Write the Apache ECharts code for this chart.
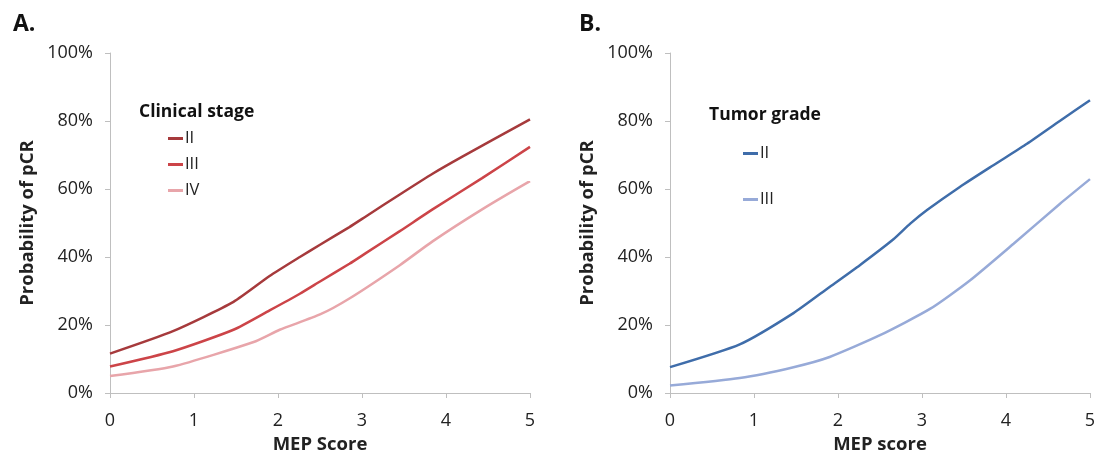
<!DOCTYPE html>
<html><head><meta charset="utf-8">
<script src="https://cdn.jsdelivr.net/npm/echarts@6/dist/echarts.min.js"></script>
<style>html,body{margin:0;padding:0;background:#fff}#c{width:1097px;height:452px}</style>
</head><body><div id="c"></div>
<script>
// Panel A: Clinical stage
const stageII_x  = [0, 0.75, 1.47, 1.9, 2.26, 2.5, 2.85, 3.05, 3.45, 3.84, 4.2, 5];
const stageII_y  = [11.6, 18.2, 26.8, 34.4, 40, 43.6, 48.8, 52.0, 58.4, 64.5, 69.6, 80.5];
const stageIII_x = [0, 0.75, 1.47, 1.9, 2.26, 2.5, 2.85, 3.05, 3.45, 3.84, 4.43, 5];
const stageIII_y = [7.8, 12.3, 18.6, 24.3, 29.2, 32.8, 38.0, 41.2, 47.6, 54.0, 63.2, 72.4];
const stageIV_x  = [0, 0.75, 1.71, 2.02, 2.5, 2.85, 3.45, 3.84, 4.43, 5];
const stageIV_y  = [5.0, 7.8, 15.0, 18.6, 23.1, 27.8, 37.6, 44.6, 54.0, 62.3];
// Panel B: Tumor grade
const gradeII_x  = [0, 0.83, 1.47, 1.9, 2.26, 2.66, 2.86, 3.06, 3.45, 3.85, 4.25, 4.64, 5];
const gradeII_y  = [7.6, 14.3, 23.5, 31.2, 37.6, 45.2, 49.8, 53.8, 60.6, 67.0, 73.3, 80.0, 86.1];
const gradeIII_x = [0, 0.83, 1.47, 1.9, 2.5, 3.1, 3.57, 4.09, 4.64, 5];
const gradeIII_y = [2.2, 4.4, 7.6, 10.6, 17.0, 24.8, 33.1, 43.9, 55.6, 62.9];

const xTicks = [0, 1, 2, 3, 4, 5];
const yTicks = [0, 20, 40, 60, 80, 100];
const stageNames = ['II', 'III', 'IV'];
const gradeNames = ['II', 'III'];

const pair = (xs, ys) => xs.map((x, i) => [x, ys[i]]);
const FONT = '"Open Sans", "Liberation Sans", sans-serif';
const axisCol = '#BFBFBF';
const txt = '#222';

function xAxis(gi, name) {
  return {
    gridIndex: gi, type: 'value', min: xTicks[0], max: xTicks[xTicks.length - 1], interval: 1,
    axisLine: { lineStyle: { color: axisCol, width: 1 } },
    axisTick: { show: true, length: 5, lineStyle: { color: axisCol } },
    splitLine: { show: false },
    axisLabel: { color: txt, fontSize: 18, fontFamily: FONT, margin: 19 },
    name: name, nameLocation: 'middle', nameGap: 41,
    nameTextStyle: { color: txt, fontSize: 18.5, fontWeight: 'bold', fontFamily: FONT }
  };
}
function yAxis(gi) {
  return {
    gridIndex: gi, type: 'value', min: yTicks[0], max: yTicks[yTicks.length - 1], interval: 20,
    axisLine: { show: true, lineStyle: { color: axisCol, width: 1 } },
    axisTick: { show: true, length: 5, lineStyle: { color: axisCol } },
    splitLine: { show: false },
    axisLabel: { color: txt, fontSize: 18, fontFamily: FONT, margin: 17, formatter: '{value}%' },
    name: 'Probability of pCR', nameLocation: 'middle', nameGap: 73,
    nameTextStyle: { color: txt, fontSize: 18.5, fontWeight: 'bold', fontFamily: FONT }
  };
}
function line(name, gi, data, color) {
  return {
    name: name, type: 'line', xAxisIndex: gi, yAxisIndex: gi, data: data,
    showSymbol: false, smooth: 0.2, lineStyle: { width: 2.5, color: color }, itemStyle: { color: color },
    animation: false
  };
}
const colA = ['#A63A3C', '#CC4448', '#E8A5AA'];
const colB = ['#3F6DAA', '#97AAD8'];

const chart = echarts.init(document.getElementById('c'), null, { renderer: 'canvas' });
chart.setOption({
  animation: false,
  textStyle: { fontFamily: FONT },
  title: [
    { text: 'A.', left: 8, top: 8, textStyle: { fontSize: 23, fontWeight: 'bold', color: '#111', fontFamily: FONT } },
    { text: 'B.', left: 574, top: 8, textStyle: { fontSize: 23, fontWeight: 'bold', color: '#111', fontFamily: FONT } },
    { text: 'Clinical stage', left: 134, top: 98, textStyle: { fontSize: 17.5, fontWeight: 'bold', color: '#111', fontFamily: FONT } },
    { text: 'Tumor grade', left: 704, top: 101, textStyle: { fontSize: 17.5, fontWeight: 'bold', color: '#111', fontFamily: FONT } }
  ],
  grid: [
    { left: 110, top: 53, width: 420, height: 340, outerBoundsMode: 'none', containLabel: false },
    { left: 670, top: 53, width: 420, height: 340, outerBoundsMode: 'none', containLabel: false }
  ],
  xAxis: [xAxis(0, 'MEP Score'), xAxis(1, 'MEP score')],
  yAxis: [yAxis(0), yAxis(1)],
  legend: [
    { data: stageNames.map(n => 'A|' + n), orient: 'vertical', left: 168, top: 130, padding: 0,
      icon: 'rect', itemWidth: 15, itemHeight: 3, itemGap: 9,
      formatter: n => n.split('|')[1],
      textStyle: { fontSize: 16.5, color: txt, fontFamily: FONT, padding: [0, 0, 0, -3] } },
    { data: gradeNames.map(n => 'B|' + n), orient: 'vertical', left: 743, top: 145, padding: 0, itemGap: 29,
      icon: 'rect', itemWidth: 15, itemHeight: 3,
      formatter: n => n.split('|')[1],
      textStyle: { fontSize: 16.5, color: txt, fontFamily: FONT, padding: [0, 0, 0, -3] } }
  ],
  series: [
    line('A|II', 0, pair(stageII_x, stageII_y), colA[0]),
    line('A|III', 0, pair(stageIII_x, stageIII_y), colA[1]),
    line('A|IV', 0, pair(stageIV_x, stageIV_y), colA[2]),
    line('B|II', 1, pair(gradeII_x, gradeII_y), colB[0]),
    line('B|III', 1, pair(gradeIII_x, gradeIII_y), colB[1])
  ]
});
</script></body></html>
